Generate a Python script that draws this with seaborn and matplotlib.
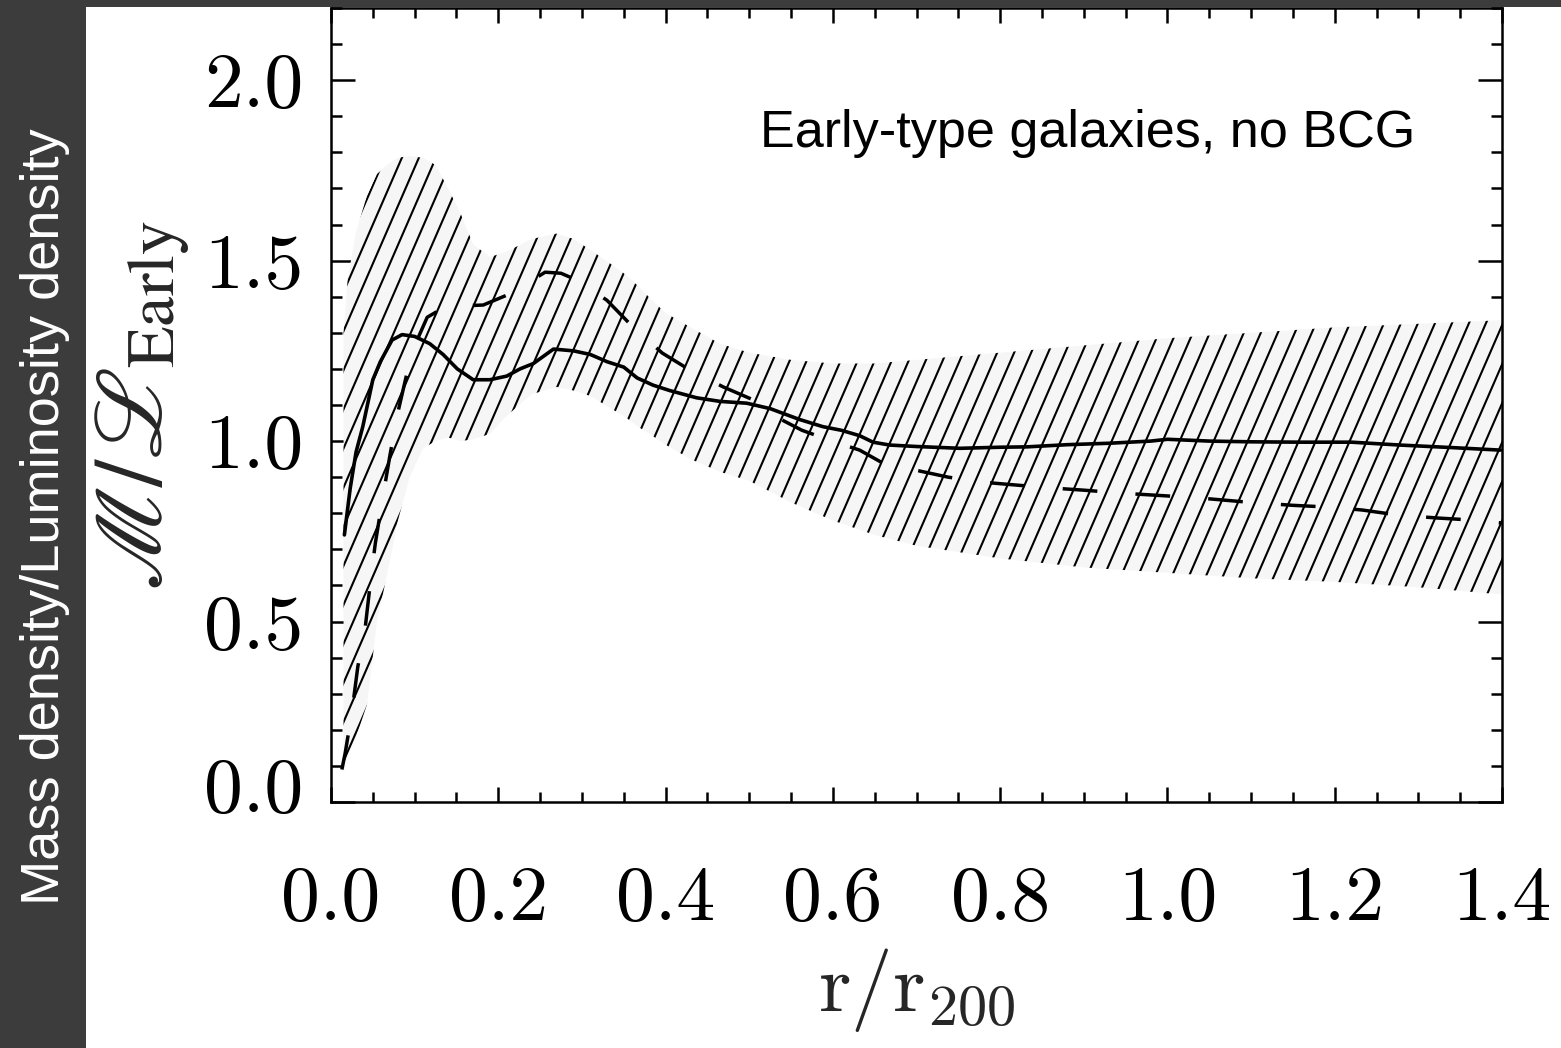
import numpy as np
import pandas as pd
import seaborn as sns
import matplotlib
matplotlib.use("Agg")
import matplotlib.pyplot as plt
from matplotlib.collections import LineCollection
from matplotlib.patches import Rectangle
from matplotlib.ticker import MultipleLocator
import matplotlib.transforms as mtransforms

# ---------------- data ----------------
r_solid = [0.016, 0.023, 0.030, 0.038, 0.050, 0.059, 0.073, 0.085, 0.100, 0.118,
           0.134, 0.151, 0.170, 0.190, 0.210, 0.226, 0.242, 0.266, 0.290, 0.310,
           0.330, 0.350, 0.366, 0.385, 0.405, 0.437, 0.465, 0.497, 0.525, 0.560,
           0.588, 0.610, 0.632, 0.648, 0.668, 0.700, 0.752, 0.800, 0.832, 0.880,
           0.930, 0.980, 1.000, 1.050, 1.100, 1.159, 1.220, 1.278, 1.340, 1.398]
ml_solid = [0.74, 0.87, 0.97, 1.04, 1.17, 1.22, 1.28, 1.295, 1.29, 1.27,
            1.24, 1.20, 1.17, 1.17, 1.18, 1.20, 1.215, 1.255, 1.25, 1.24,
            1.22, 1.205, 1.175, 1.155, 1.14, 1.12, 1.11, 1.105, 1.09, 1.06,
            1.04, 1.03, 1.015, 0.997, 0.989, 0.985, 0.98, 0.983, 0.984, 0.99,
            0.994, 1.0, 1.005, 1.0, 0.998, 0.997, 0.997, 0.989, 0.982, 0.975]

r_dash = [0.013, 0.017, 0.025, 0.032, 0.041, 0.047, 0.053, 0.062, 0.0705, 0.080,
          0.091, 0.103, 0.115, 0.140, 0.160, 0.182, 0.216, 0.256, 0.275, 0.294,
          0.330, 0.361, 0.396, 0.429, 0.469, 0.505, 0.533, 0.563, 0.599, 0.632,
          0.659, 0.698, 0.738, 0.780, 0.820, 0.862, 0.900, 0.950, 1.000, 1.050,
          1.100, 1.150, 1.194, 1.233, 1.276, 1.322, 1.366, 1.400]
ml_dash = [0.09, 0.136, 0.249, 0.374, 0.485, 0.607, 0.717, 0.845, 0.961, 1.08,
           1.19, 1.28, 1.343, 1.377, 1.375, 1.377, 1.41, 1.468, 1.465, 1.446,
           1.39, 1.316, 1.244, 1.197, 1.15, 1.114, 1.066, 1.03, 1.0, 0.975,
           0.94, 0.92, 0.90, 0.886, 0.878, 0.87, 0.864, 0.855, 0.848, 0.84,
           0.83, 0.822, 0.817, 0.809, 0.795, 0.787, 0.781, 0.773]

r_band = [0.015, 0.020, 0.030, 0.043, 0.055, 0.067, 0.080, 0.094, 0.110, 0.125,
          0.140, 0.155, 0.170, 0.190, 0.210, 0.240, 0.270, 0.290, 0.310, 0.335,
          0.350, 0.367, 0.384, 0.400, 0.430, 0.465, 0.500, 0.550, 0.600, 0.650,
          0.700, 0.800, 0.900, 1.000, 1.100, 1.200, 1.300, 1.400]
band_low = [0.08, 0.13, 0.18, 0.27, 0.50, 0.63, 0.78, 0.90, 0.98, 1.00,
            1.01, 1.00, 1.005, 1.02, 1.07, 1.13, 1.15, 1.14, 1.125, 1.09,
            1.07, 1.04, 1.015, 0.99, 0.95, 0.915, 0.89, 0.83, 0.78, 0.74,
            0.71, 0.675, 0.65, 0.635, 0.62, 0.61, 0.595, 0.575]
band_high = [1.30, 1.45, 1.58, 1.68, 1.74, 1.765, 1.785, 1.79, 1.785, 1.765,
             1.70, 1.63, 1.545, 1.51, 1.525, 1.56, 1.575, 1.56, 1.53, 1.49,
             1.465, 1.43, 1.39, 1.355, 1.315, 1.27, 1.245, 1.225, 1.215, 1.215,
             1.225, 1.245, 1.265, 1.285, 1.30, 1.315, 1.325, 1.335]

x_ticks = [0.0, 0.2, 0.4, 0.6, 0.8, 1.0, 1.2, 1.4]
x_ticklabels = ["0.0", "0.2", "0.4", "0.6", "0.8", "1.0", "1.2", "1.4"]
y_ticks = [0.0, 0.5, 1.0, 1.5, 2.0]
y_ticklabels = ["0.0", "0.5", "1.0", "1.5", "2.0"]

annotation = "Early-type galaxies, no BCG"
side_title = "Mass density/Luminosity density"
x_label = r"$\mathrm{r}/\mathrm{r}_{200}$"
y_label = r"$\mathscr{M}/\mathscr{L}_{\mathrm{Early}}$"

# ---------------- style ----------------
sns.set_style("ticks")
plt.rcParams["font.family"] = ["Liberation Sans", "DejaVu Sans"]
plt.rcParams["axes.formatter.use_mathtext"] = True

W, H = 1561, 1048
fig = plt.figure(figsize=(W / 100, H / 100), dpi=100, facecolor="white")

# dark frame strips of the slide
dark = "#3c3c3c"
fig.add_artist(Rectangle((0, 0), 86 / W, 1, transform=fig.transFigure,
                         facecolor=dark, edgecolor="none", zorder=-5))
fig.add_artist(Rectangle((0, 1 - 7 / H), 1, 7 / H, transform=fig.transFigure,
                         facecolor=dark, edgecolor="none", zorder=-5))

ax_l, ax_r, ax_t, ax_b = 331, 1502, 8, 802
ax = fig.add_axes([ax_l / W, 1 - ax_b / H, (ax_r - ax_l) / W, (ax_b - ax_t) / H])
ax.set_facecolor("white")

# ---------------- hatched band ----------------
band = ax.fill_between(r_band, band_low, band_high, facecolor="#f6f6f6",
                       edgecolor="none", zorder=1)
Wax, Hax = ax_r - ax_l, ax_b - ax_t
slope = 2.3
step = 17.0
starts = np.arange(-Hax / slope, Wax + step, step)
segs = [[(s / Wax, 0.0), ((s + Hax / slope) / Wax, 1.0)] for s in starts]
hatch = LineCollection(segs, transform=ax.transAxes, colors="black",
                       linewidths=1.5, zorder=2)
ax.add_collection(hatch, autolim=False)
hatch.set_clip_path(band.get_paths()[0], ax.transData)

# ---------------- curves ----------------
df_solid = pd.DataFrame({"r": r_solid, "ml": ml_solid})
df_dash = pd.DataFrame({"r": r_dash, "ml": ml_dash})
sns.lineplot(data=df_solid, x="r", y="ml", ax=ax, color="black",
             linewidth=2.6, zorder=3)
sns.lineplot(data=df_dash, x="r", y="ml", ax=ax, color="black",
             linewidth=2.5, zorder=3)
ax.lines[-1].set_linestyle((0, (10, 11)))

# ---------------- axes ----------------
ax.set_xlim(0, 1.4)
ax.set_ylim(0, 2.2)
ax.set_xticks(x_ticks)
ax.set_xticklabels(x_ticklabels)
ax.set_yticks(y_ticks)
ax.set_yticklabels(y_ticklabels)
ax.xaxis.set_minor_locator(MultipleLocator(0.05))
ax.yaxis.set_minor_locator(MultipleLocator(0.1))
for sp in ax.spines.values():
    sp.set_visible(True)
    sp.set_linewidth(1.8)
    sp.set_color("black")
ax.tick_params(which="both", direction="in", top=True, right=True,
               width=1.8, color="black", labelcolor="black")
ax.tick_params(axis="x", which="major", length=11, pad=46, labelsize=56,
               labelfontfamily="cmr10")
ax.tick_params(axis="x", which="minor", length=7)
ax.tick_params(axis="y", which="major", length=17, pad=20, labelsize=56,
               labelfontfamily="cmr10")
ax.tick_params(axis="y", which="minor", length=8)

lab0 = ax.get_yticklabels()[0]
lab0.set_transform(lab0.get_transform() +
                   mtransforms.ScaledTranslation(0, 0.17, fig.dpi_scale_trans))

ax.set_xlabel(x_label, fontsize=60, math_fontfamily="cm")
ax.xaxis.set_label_coords(0.5, -(990 - ax_b) / Hax)
ax.xaxis.label.set_va("center")
ax.set_ylabel(y_label, fontsize=70, math_fontfamily="stix")
ax.yaxis.set_label_coords(-(ax_l - 143) / Wax, 0.5)
ax.yaxis.label.set_va("center")

# ---------------- texts ----------------
fig.text(760 / W, 1 - 147 / H, annotation, fontsize=37.5, ha="left",
         va="baseline", color="black")
fig.text(45 / W, 1 - 517 / H, side_title, rotation=90, fontsize=39,
         ha="center", va="center", color="white")

fig.savefig("out.png", dpi=100, facecolor=fig.get_facecolor())
